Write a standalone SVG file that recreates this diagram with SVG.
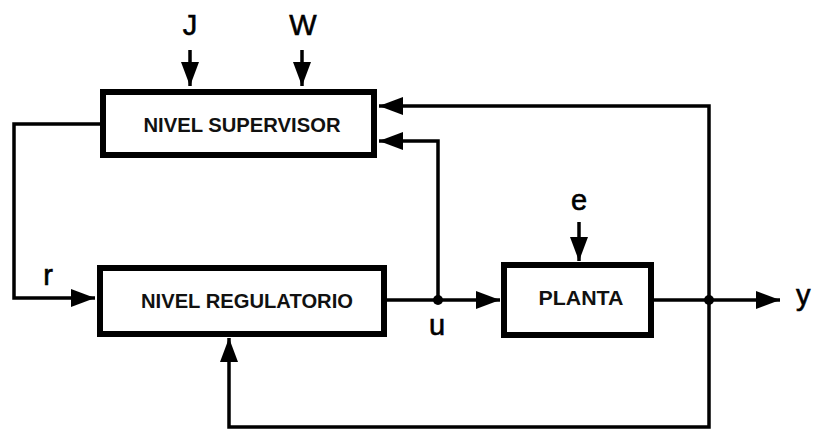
<svg xmlns="http://www.w3.org/2000/svg" width="813" height="429" viewBox="0 0 813 429">
<style>
.box{fill:#fff;stroke:#000;stroke-width:6}
.lbl{font-family:"Liberation Sans",Arial,sans-serif;font-weight:bold;font-size:21px;text-anchor:middle;fill:#111}
.sig{font-family:"Liberation Sans",Arial,sans-serif;font-size:29px;text-anchor:middle;fill:#000;stroke:#000;stroke-width:0.6}
.ln{fill:none;stroke:#000;stroke-width:3.5}
</style>
<defs>
<marker id="ah" markerUnits="userSpaceOnUse" markerWidth="26" markerHeight="20" refX="24" refY="9" orient="auto" viewBox="0 0 26 20">
<path d="M0,0 L24,9 L0,18 z" fill="#000"/>
</marker>
</defs>
<rect width="813" height="429" fill="#fff"/>
<g id="connectors">
<line class="ln" x1="190" y1="50" x2="190" y2="86" marker-end="url(#ah)"/>
<line class="ln" x1="302" y1="50" x2="302" y2="86" marker-end="url(#ah)"/>
<polyline class="ln" points="100,124 14,124 14,298 95,298" marker-end="url(#ah)"/>
<polyline class="ln" points="709,300 709,106 379,106" marker-end="url(#ah)"/>
<polyline class="ln" points="438,300 438,141 379,141" marker-end="url(#ah)"/>
<line class="ln" x1="387" y1="300" x2="500" y2="300" marker-end="url(#ah)"/>
<line class="ln" x1="579" y1="222" x2="579" y2="261" marker-end="url(#ah)"/>
<line class="ln" x1="654" y1="300" x2="780" y2="300" marker-end="url(#ah)"/>
<polyline class="ln" points="709,300 709,427 229,427 229,338" marker-end="url(#ah)"/>
<circle cx="438" cy="300" r="5" fill="#000"/>
<circle cx="709" cy="300" r="5" fill="#000"/>
</g>
<g id="supervisor">
<rect class="box" x="103" y="92" width="271" height="63"/>
<text class="lbl" x="242" y="132" textLength="197" lengthAdjust="spacingAndGlyphs">NIVEL SUPERVISOR</text>
</g>
<g id="regulatorio">
<rect class="box" x="100" y="268" width="284" height="66"/>
<text class="lbl" x="247" y="308" textLength="212" lengthAdjust="spacingAndGlyphs">NIVEL REGULATORIO</text>
</g>
<g id="planta">
<rect class="box" x="504" y="265" width="147" height="70"/>
<text class="lbl" x="581" y="305" textLength="85" lengthAdjust="spacingAndGlyphs">PLANTA</text>
</g>
<g id="labels">
<text class="sig" x="190" y="35">J</text>
<text class="sig" x="303" y="35">W</text>
<text class="sig" x="579" y="210">e</text>
<text class="sig" x="48" y="285">r</text>
<text class="sig" x="437" y="335">u</text>
<text class="sig" x="796" y="305" style="text-anchor:start">y</text>
</g>
</svg>
